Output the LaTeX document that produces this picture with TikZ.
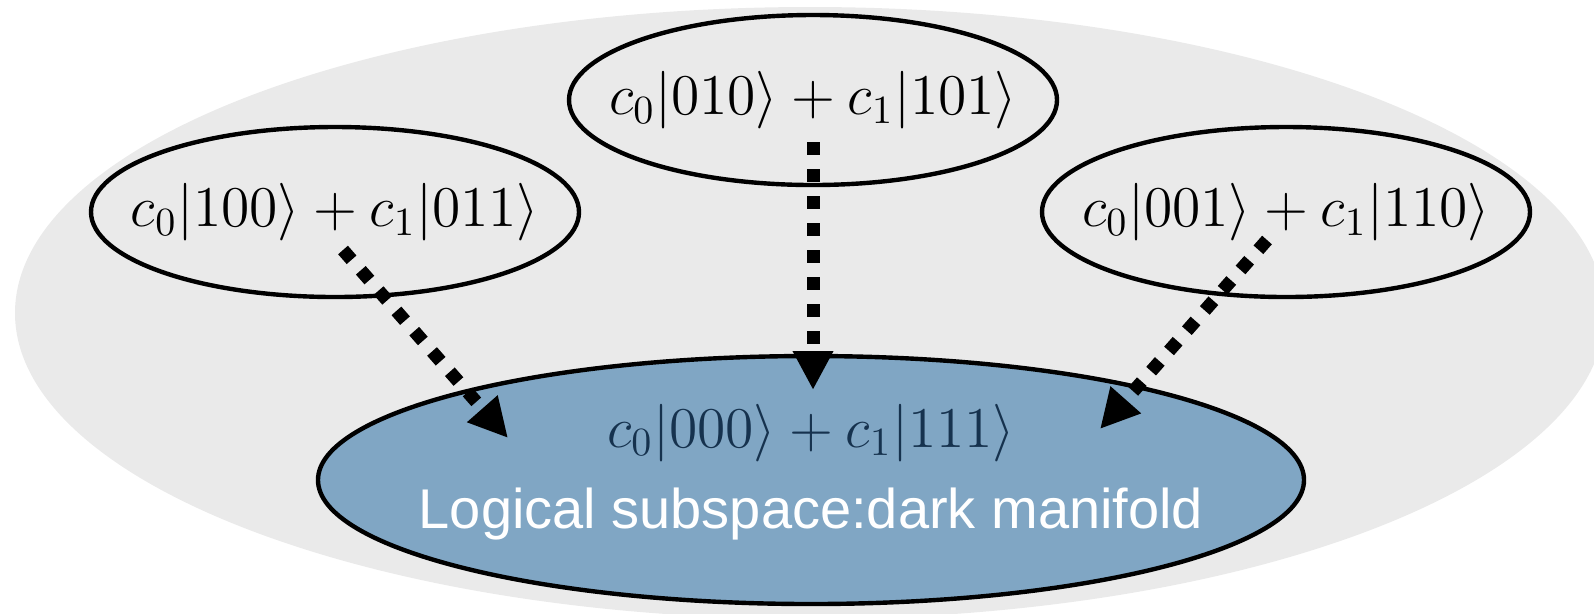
\documentclass[tikz,border=0pt]{standalone}
\usepackage{fontspec}
\newfontfamily\arialf{Liberation Sans}
\usetikzlibrary{shapes.geometric,arrows.meta}
\definecolor{bggrey}{RGB}{234,234,234}
\definecolor{manifold}{RGB}{128,166,196}
\definecolor{darkmath}{RGB}{22,50,78}
\begin{document}
\begin{tikzpicture}[x=0.25pt,y=-0.25pt,
  state/.style={ellipse, draw=black, line width=1.1pt, inner sep=0pt, minimum width=122pt, minimum height=42.5pt},
  ket/.style={inner sep=0pt, font=\fontsize{14.4}{17}\selectfont},
  flow/.style={line width=3.25pt, dash pattern=on 3.25pt off 3.5pt, -{Triangle[length=9.75pt,width=9.5pt]}},
]
\useasboundingbox (0,0) rectangle (1594,613);
\begin{scope}
  \clip (0,0) rectangle (1594,613);
  \node[ellipse, fill=bggrey, inner sep=0pt, minimum width=397.5pt, minimum height=153pt] (space) at (810,313) {};
\end{scope}
\node[state] (s010) at (813,100) {};
\node[state] (s100) at (335,212) {};
\node[state] (s001) at (1286,212) {};
\node[state, fill=manifold, minimum width=246.5pt, minimum height=62pt] (logical) at (811,480) {};
\node[ket] (k010) at (s010.center) {$c_0|010\rangle + c_1|101\rangle$};
\node[ket] (k100) at (s100.center) {$c_0|100\rangle + c_1|011\rangle$};
\node[ket] (k001) at (s001.center) {$c_0|001\rangle + c_1|110\rangle$};
\node[ket, text=darkmath, anchor=base] (k000) at (811,447) {$c_0|000\rangle + c_1|111\rangle$};
\node[inner sep=0pt, font=\arialf\fontsize{14}{17}\selectfont, text=white, anchor=base] (label) at (811,528) {Logical subspace:dark manifold};
\coordinate (a1) at (343,250); \coordinate (b1) at (508,438);
\coordinate (a2) at (813,142); \coordinate (b2) at (813,390);
\coordinate (a3) at (1267,240); \coordinate (b3) at (1100,429);
\draw[flow] (a1) -- (b1);
\draw[flow] (a2) -- (b2);
\draw[flow] (a3) -- (b3);
\end{tikzpicture}
\end{document}
